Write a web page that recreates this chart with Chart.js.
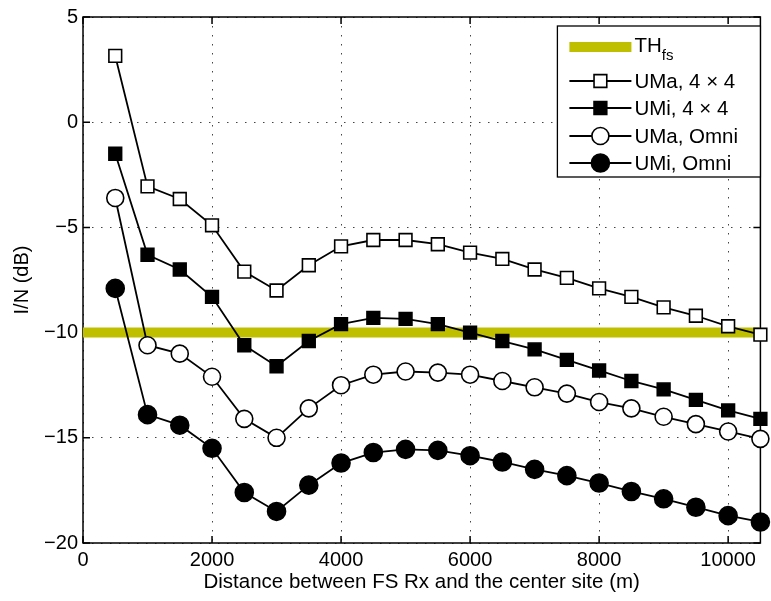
<!DOCTYPE html>
<html>
<head>
<meta charset="utf-8">
<script src="https://cdn.jsdelivr.net/npm/chart.js@4.4.1/dist/chart.umd.min.js"></script>
<style>
  html, body { margin: 0; padding: 0; background: #fff; }
  #wrap { width: 771px; height: 601px; }
</style>
</head>
<body>
<div id="wrap"><canvas id="interference"></canvas></div>
<script>
// distance from the centre site (m)
const distances = [500, 1000, 1500, 2000, 2500, 3000, 3500, 4000, 4500, 5000, 5500,
                   6000, 6500, 7000, 7500, 8000, 8500, 9000, 9500, 10000, 10500];

// I/N in dB
const umaArray = [3.15, -3.05, -3.65, -4.9, -7.1, -8.0, -6.8, -5.9, -5.6, -5.6, -5.8,
                  -6.2, -6.5, -7.0, -7.4, -7.9, -8.3, -8.8, -9.2, -9.7, -10.1];
const umiArray = [-1.5, -6.3, -7.0, -8.3, -10.6, -11.6, -10.4, -9.6, -9.3, -9.35, -9.6,
                  -10.0, -10.4, -10.8, -11.3, -11.8, -12.3, -12.7, -13.2, -13.7, -14.1];
const umaOmni = [-3.6, -10.6, -11.0, -12.1, -14.1, -15.0, -13.6, -12.5, -12.0, -11.85, -11.9,
                 -12.0, -12.3, -12.6, -12.9, -13.3, -13.6, -14.0, -14.35, -14.7, -15.05];
const umiOmni = [-7.9, -13.9, -14.4, -15.5, -17.6, -18.5, -17.25, -16.2, -15.7, -15.55, -15.6,
                 -15.85, -16.15, -16.5, -16.8, -17.15, -17.55, -17.9, -18.3, -18.7, -19.0];

const thresholdDb = -10;
const xRange = [0, 10500];
const xTickValues = [0, 2000, 4000, 6000, 8000, 10000];
const yTickValues = [-20, -15, -10, -5, 0, 5];

const FONT = 'Liberation Sans, Arial, Helvetica, sans-serif';
const olive = '#bfbf00';

const toPoints = (arr) => distances.map((d, i) => ({ x: d, y: arr[i] }));

function series(label, arr, style, filled, radius) {
  return {
    label: label,
    data: toPoints(arr),
    borderColor: '#000',
    borderWidth: 1.8,
    pointStyle: style,
    pointRadius: radius,
    pointHoverRadius: radius,
    pointBorderWidth: 1.6,
    pointBorderColor: '#000',
    pointBackgroundColor: filled ? '#000' : '#fff',
    tension: 0,
    clip: false
  };
}

// box + inward tick marks, matlab style
const axesBox = {
  id: 'axesBox',
  beforeDatasetsDraw(chart) {
    const { ctx, chartArea: a, scales } = chart;
    ctx.save();
    ctx.strokeStyle = '#000';
    ctx.lineWidth = 1.5;
    ctx.strokeRect(a.left, a.top, a.right - a.left, a.bottom - a.top);
    ctx.beginPath();
    const len = 7;
    xTickValues.forEach(v => {
      const px = scales.x.getPixelForValue(v);
      ctx.moveTo(px, a.bottom); ctx.lineTo(px, a.bottom - len);
      ctx.moveTo(px, a.top); ctx.lineTo(px, a.top + len);
    });
    yTickValues.forEach(v => {
      const py = scales.y.getPixelForValue(v);
      ctx.moveTo(a.left, py); ctx.lineTo(a.left + len, py);
      ctx.moveTo(a.right, py); ctx.lineTo(a.right - len, py);
    });
    ctx.stroke();
    ctx.restore();
  }
};

// legend drawn by hand so the samples look like line + marker
const boxLegend = {
  id: 'boxLegend',
  afterDraw(chart) {
    const { ctx, chartArea: a } = chart;
    const w = 203, h = 151;
    const left = a.right - w, top = a.top + 9;
    ctx.save();
    ctx.fillStyle = '#fff';
    ctx.fillRect(left, top, w, h);
    ctx.strokeStyle = '#000';
    ctx.lineWidth = 1.3;
    ctx.strokeRect(left, top, w, h);

    const x0 = left + 12, x1 = left + 74, xm = (x0 + x1) / 2, tx = left + 77;
    const rows = [21, 55, 82, 110, 137];
    ctx.font = '20.5px ' + FONT;
    ctx.textBaseline = 'middle';
    ctx.fillStyle = '#000';

    // threshold entry
    let y = top + rows[0];
    ctx.fillStyle = olive;
    ctx.fillRect(x0, y - 5, x1 - x0, 10);
    ctx.fillStyle = '#000';
    ctx.fillText('TH', tx, y - 1);
    const thW = ctx.measureText('TH').width;
    ctx.font = '15px ' + FONT;
    ctx.fillText('fs', tx + thW, y + 9);
    ctx.font = '20.5px ' + FONT;

    chart.data.datasets.slice(1).forEach((ds, i) => {
      y = top + rows[i + 1];
      ctx.strokeStyle = '#000';
      ctx.lineWidth = ds.borderWidth;
      ctx.beginPath();
      ctx.moveTo(x0, y); ctx.lineTo(x1, y);
      ctx.stroke();
      ctx.fillStyle = ds.pointBackgroundColor;
      ctx.lineWidth = ds.pointBorderWidth;
      Chart.helpers.drawPoint(ctx, { pointStyle: ds.pointStyle, radius: ds.pointRadius, borderWidth: ds.pointBorderWidth }, xm, y);
      ctx.fillStyle = '#000';
      ctx.fillText(ds.label, tx, y + 1);
    });
    ctx.restore();
  }
};

new Chart(document.getElementById('interference'), {
  type: 'line',
  data: {
    datasets: [
      {
        label: 'TH_fs',
        data: [{ x: xRange[0], y: thresholdDb }, { x: xRange[1], y: thresholdDb }],
        borderColor: olive,
        borderWidth: 10,
        pointRadius: 0,
        borderCapStyle: 'butt',
        order: 10
      },
      series('UMa, 4 \u00d7 4', umaArray, 'rect', false, 9),
      series('UMi, 4 \u00d7 4', umiArray, 'rect', true, 9),
      series('UMa, Omni', umaOmni, 'circle', false, 8.5),
      series('UMi, Omni', umiOmni, 'circle', true, 9)
    ]
  },
  options: {
    responsive: true,
    maintainAspectRatio: false,
    animation: false,
    layout: { padding: { left: 0, top: 16, right: 9, bottom: 0 } },
    plugins: {
      legend: { display: false },
      tooltip: { enabled: false }
    },
    scales: {
      x: {
        type: 'linear',
        min: xRange[0],
        max: xRange[1],
        afterFit: (s) => { s.height = 58; },
        afterBuildTicks: (s) => { s.ticks = xTickValues.map(v => ({ value: v })); },
        border: { display: false, dash: [1.5, 7.5] },
        grid: {
          color: '#444',
          lineWidth: 1,
          drawTicks: false
        },
        ticks: {
          color: '#000',
          font: { family: FONT, size: 20 },
          padding: 5,
          maxRotation: 0,
          callback: (v) => String(v)
        },
        title: {
          display: true,
          text: 'Distance between FS Rx and the center site (m)',
          color: '#000',
          font: { family: FONT, size: 20.5 },
          padding: { top: 0, bottom: 6 }
        }
      },
      y: {
        min: yTickValues[0],
        max: yTickValues[yTickValues.length - 1],
        afterFit: (s) => { s.width = 83; },
        afterBuildTicks: (s) => { s.ticks = yTickValues.map(v => ({ value: v })); },
        border: { display: false, dash: [1.5, 7.5] },
        grid: {
          color: '#444',
          lineWidth: 1,
          drawTicks: false
        },
        ticks: {
          color: '#000',
          font: { family: FONT, size: 20 },
          padding: 5,
          callback: (v) => String(v).replace('-', '\u2212')
        },
        title: {
          display: true,
          text: 'I/N (dB)',
          color: '#000',
          font: { family: FONT, size: 20 },
          padding: { top: 10, bottom: 0 }
        }
      }
    }
  },
  plugins: [axesBox, boxLegend]
});
</script>
</body>
</html>
